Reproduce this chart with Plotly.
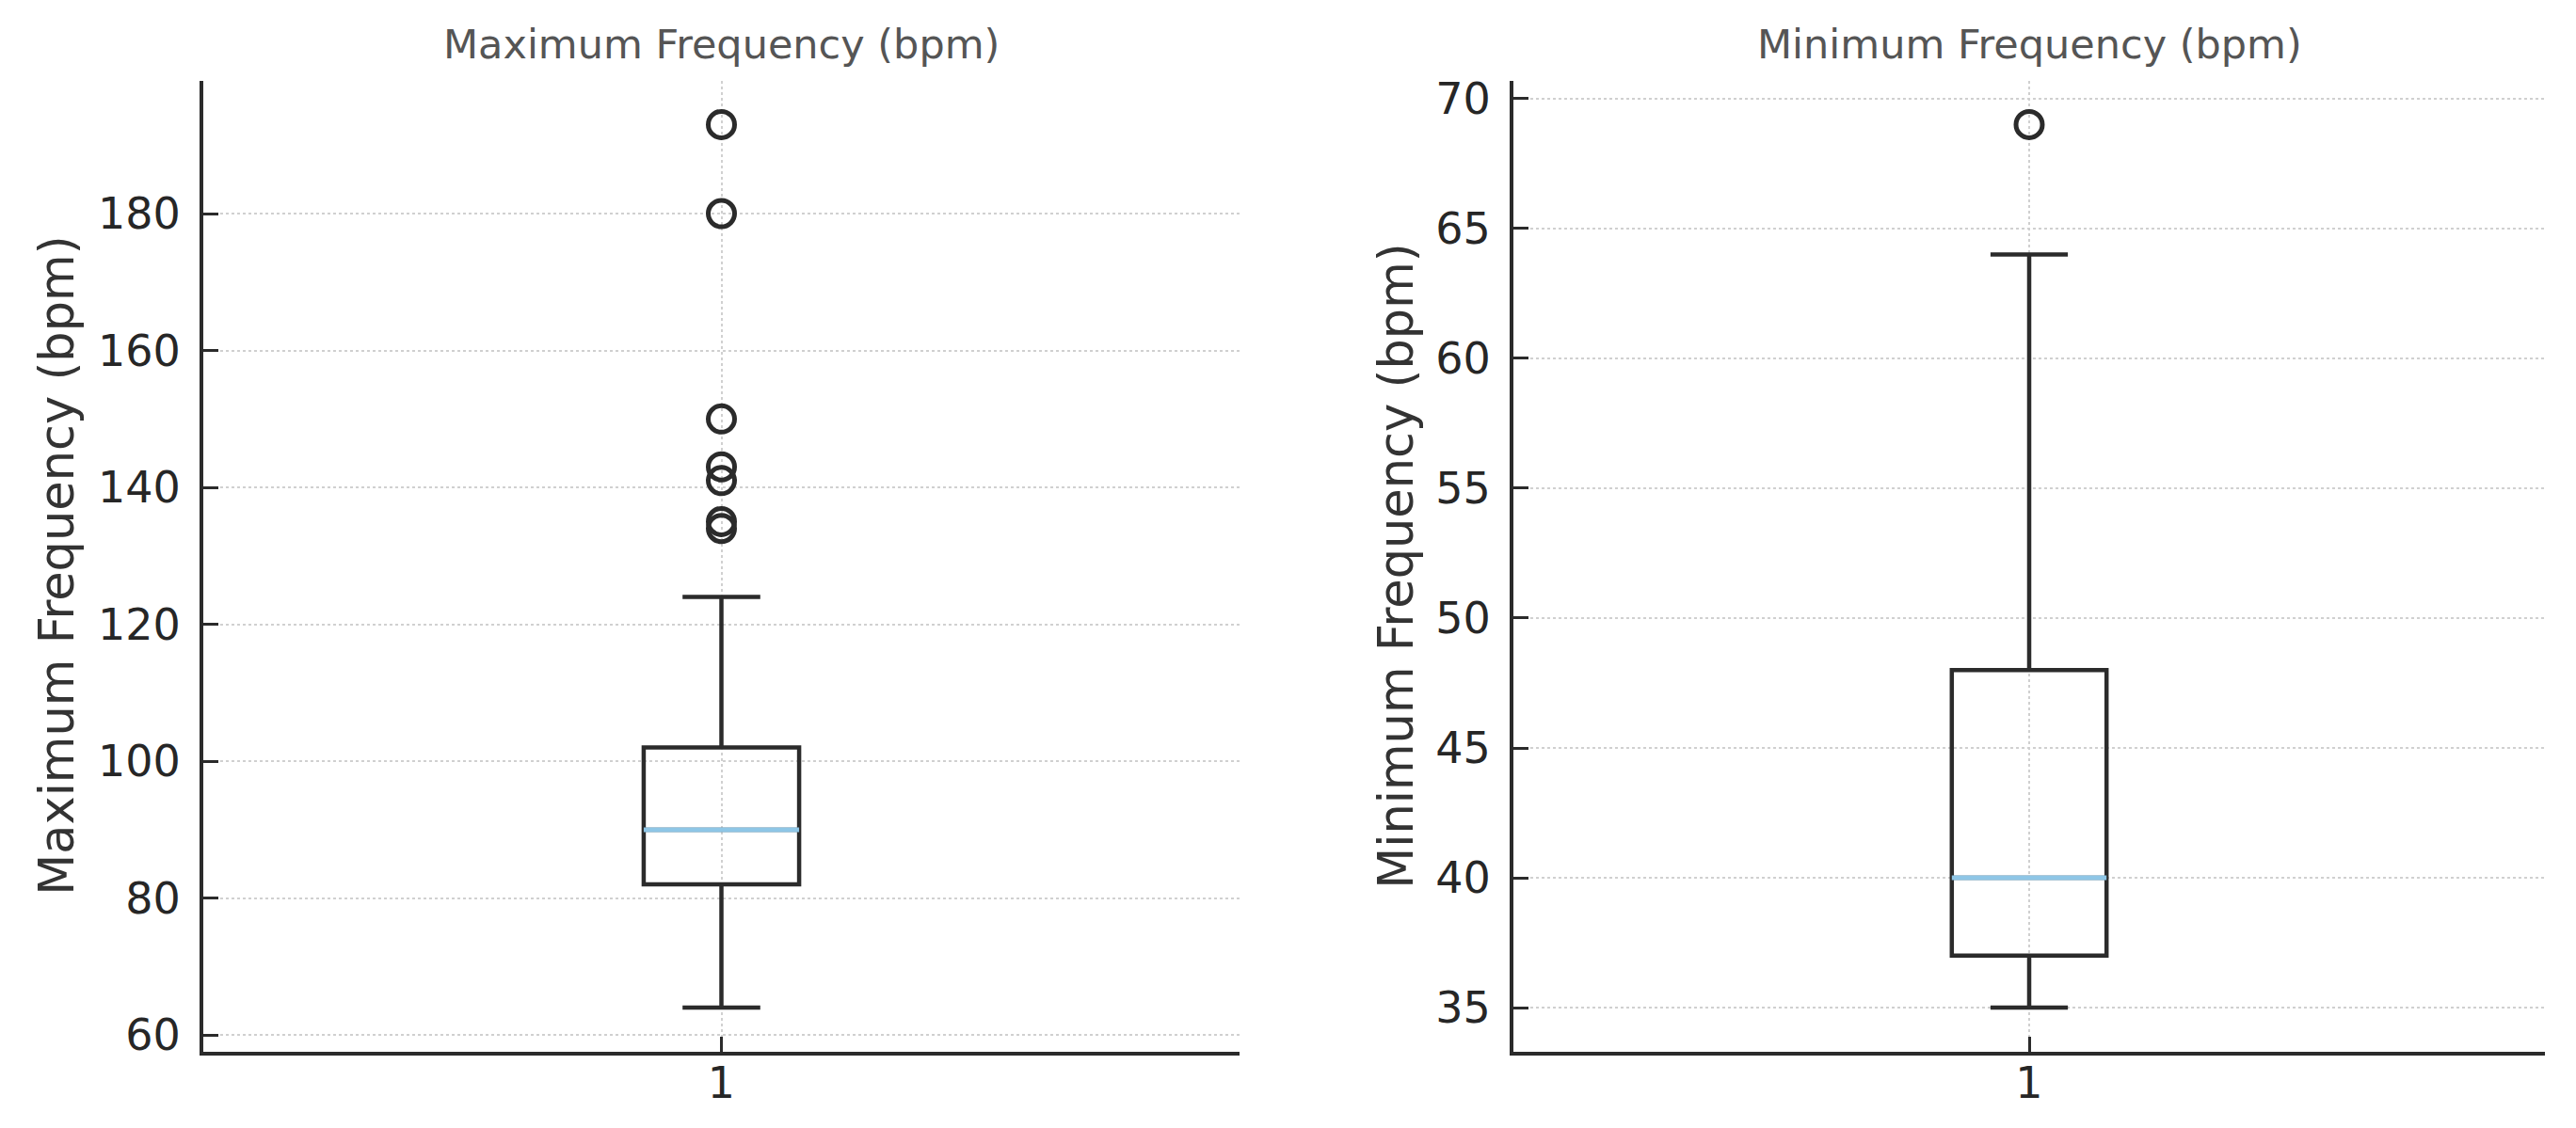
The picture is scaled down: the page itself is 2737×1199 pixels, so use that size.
import plotly.graph_objects as go

# ---- data ----
panel_titles = ["Maximum Frequency (bpm)", "Minimum Frequency (bpm)"]
axis_titles = ["Maximum Frequency (bpm)", "Minimum Frequency (bpm)"]
category_labels = ["1"]
positions = [1]

max_q1 = [82]
max_median = [90]
max_q3 = [102]
max_lower = [64]
max_upper = [124]
max_outliers = [193, 180, 150, 143, 141, 135, 134]

min_q1 = [37]
min_median = [40]
min_q3 = [48]
min_lower = [35]
min_upper = [64]
min_outliers = [69]

max_ticks = [60, 80, 100, 120, 140, 160, 180]
min_ticks = [35, 40, 45, 50, 55, 60, 65, 70]
max_range = [57.55, 199.45]
min_range = [33.3, 70.7]

# ---- styling ----
FONT = "DejaVu Sans"
BOX_W = 0.15
LINE_C = "#2b2b2b"
MED_C = "#8ec6e6"
GRID_C = "#d0d0d0"
W, H = 2737, 1199

fig = go.Figure()

def add_panel(xa, ya, q1, med, q3, lo, hi, outl):
    fig.add_trace(go.Box(
        x=positions, q1=q1, median=med, q3=q3, lowerfence=lo, upperfence=hi,
        width=BOX_W, whiskerwidth=0.5, fillcolor="rgba(255,255,255,0)",
        line=dict(color=LINE_C, width=4.5), boxpoints=False,
        xaxis=xa, yaxis=ya, showlegend=False, hoverinfo="skip"))
    # median line drawn as a degenerate box in light blue
    fig.add_trace(go.Box(
        x=positions, q1=med, median=med, q3=med, lowerfence=med, upperfence=med,
        width=BOX_W, whiskerwidth=0, fillcolor="rgba(255,255,255,0)",
        line=dict(color=MED_C, width=5), boxpoints=False,
        xaxis=xa, yaxis=ya, showlegend=False, hoverinfo="skip"))
    fig.add_trace(go.Scatter(
        x=positions * len(outl), y=outl, mode="markers",
        marker=dict(symbol="circle-open", size=28, color=LINE_C,
                    line=dict(color=LINE_C, width=5)),
        xaxis=xa, yaxis=ya, showlegend=False, hoverinfo="skip"))

add_panel("x", "y", max_q1, max_median, max_q3, max_lower, max_upper, max_outliers)
add_panel("x2", "y2", min_q1, min_median, min_q3, min_lower, min_upper, min_outliers)

# domains (pixels -> paper)
left_dom = [216 / W, 1317 / W]
right_dom = [1608 / W, 2704 / W]
y_dom = [(H - 1118) / H, (H - 85.5) / H]

xcommon = dict(range=[0.5, 1.5], tickvals=positions, ticktext=category_labels,
               showline=True, linecolor=LINE_C, linewidth=4, mirror=False,
               ticks="inside", ticklen=16, tickwidth=3, tickcolor=LINE_C,
               showgrid=True, gridcolor=GRID_C, griddash="dot", gridwidth=2,
               zeroline=False, ticklabelstandoff=-10, automargin=False,
               tickfont=dict(family=FONT, size=46, color="#262626"))
ycommon = dict(showline=True, linecolor=LINE_C, linewidth=4, mirror=False,
               ticks="inside", ticklen=16, tickwidth=3, tickcolor=LINE_C,
               showgrid=True, gridcolor=GRID_C, griddash="dot", gridwidth=2,
               zeroline=False, ticklabelstandoff=11, automargin=False,
               tickfont=dict(family=FONT, size=46, color="#262626"))

fig.update_layout(
    width=W, height=H, autosize=False, plot_bgcolor="white", paper_bgcolor="white",
    margin=dict(l=0, r=0, t=0, b=0, pad=0, autoexpand=False),
    xaxis=dict(domain=left_dom, anchor="y", **xcommon),
    yaxis=dict(domain=y_dom, anchor="x", range=max_range, tickvals=max_ticks, **ycommon),
    xaxis2=dict(domain=right_dom, anchor="y2", **xcommon),
    yaxis2=dict(domain=y_dom, anchor="x2", range=min_range, tickvals=min_ticks, **ycommon),
)

# panel titles
for xref, t in zip(["x domain", "x2 domain"], panel_titles):
    fig.add_annotation(text=t, xref=xref, yref="paper", x=0.5, y=(H - 47) / H,
                       showarrow=False, xanchor="center", yanchor="middle",
                       font=dict(family=FONT, size=43, color="#555555"))

# y-axis titles
for xp, t in zip([61 / W, 1484 / W], axis_titles):
    fig.add_annotation(text=t, xref="paper", yref="paper", x=xp,
                       y=(y_dom[0] + y_dom[1]) / 2, textangle=-90,
                       showarrow=False, xanchor="center", yanchor="middle",
                       font=dict(family=FONT, size=51, color="#333333"))

fig.write_html("out.html", config={"displayModeBar": False},
               post_script="document.body.style.margin='0';")
